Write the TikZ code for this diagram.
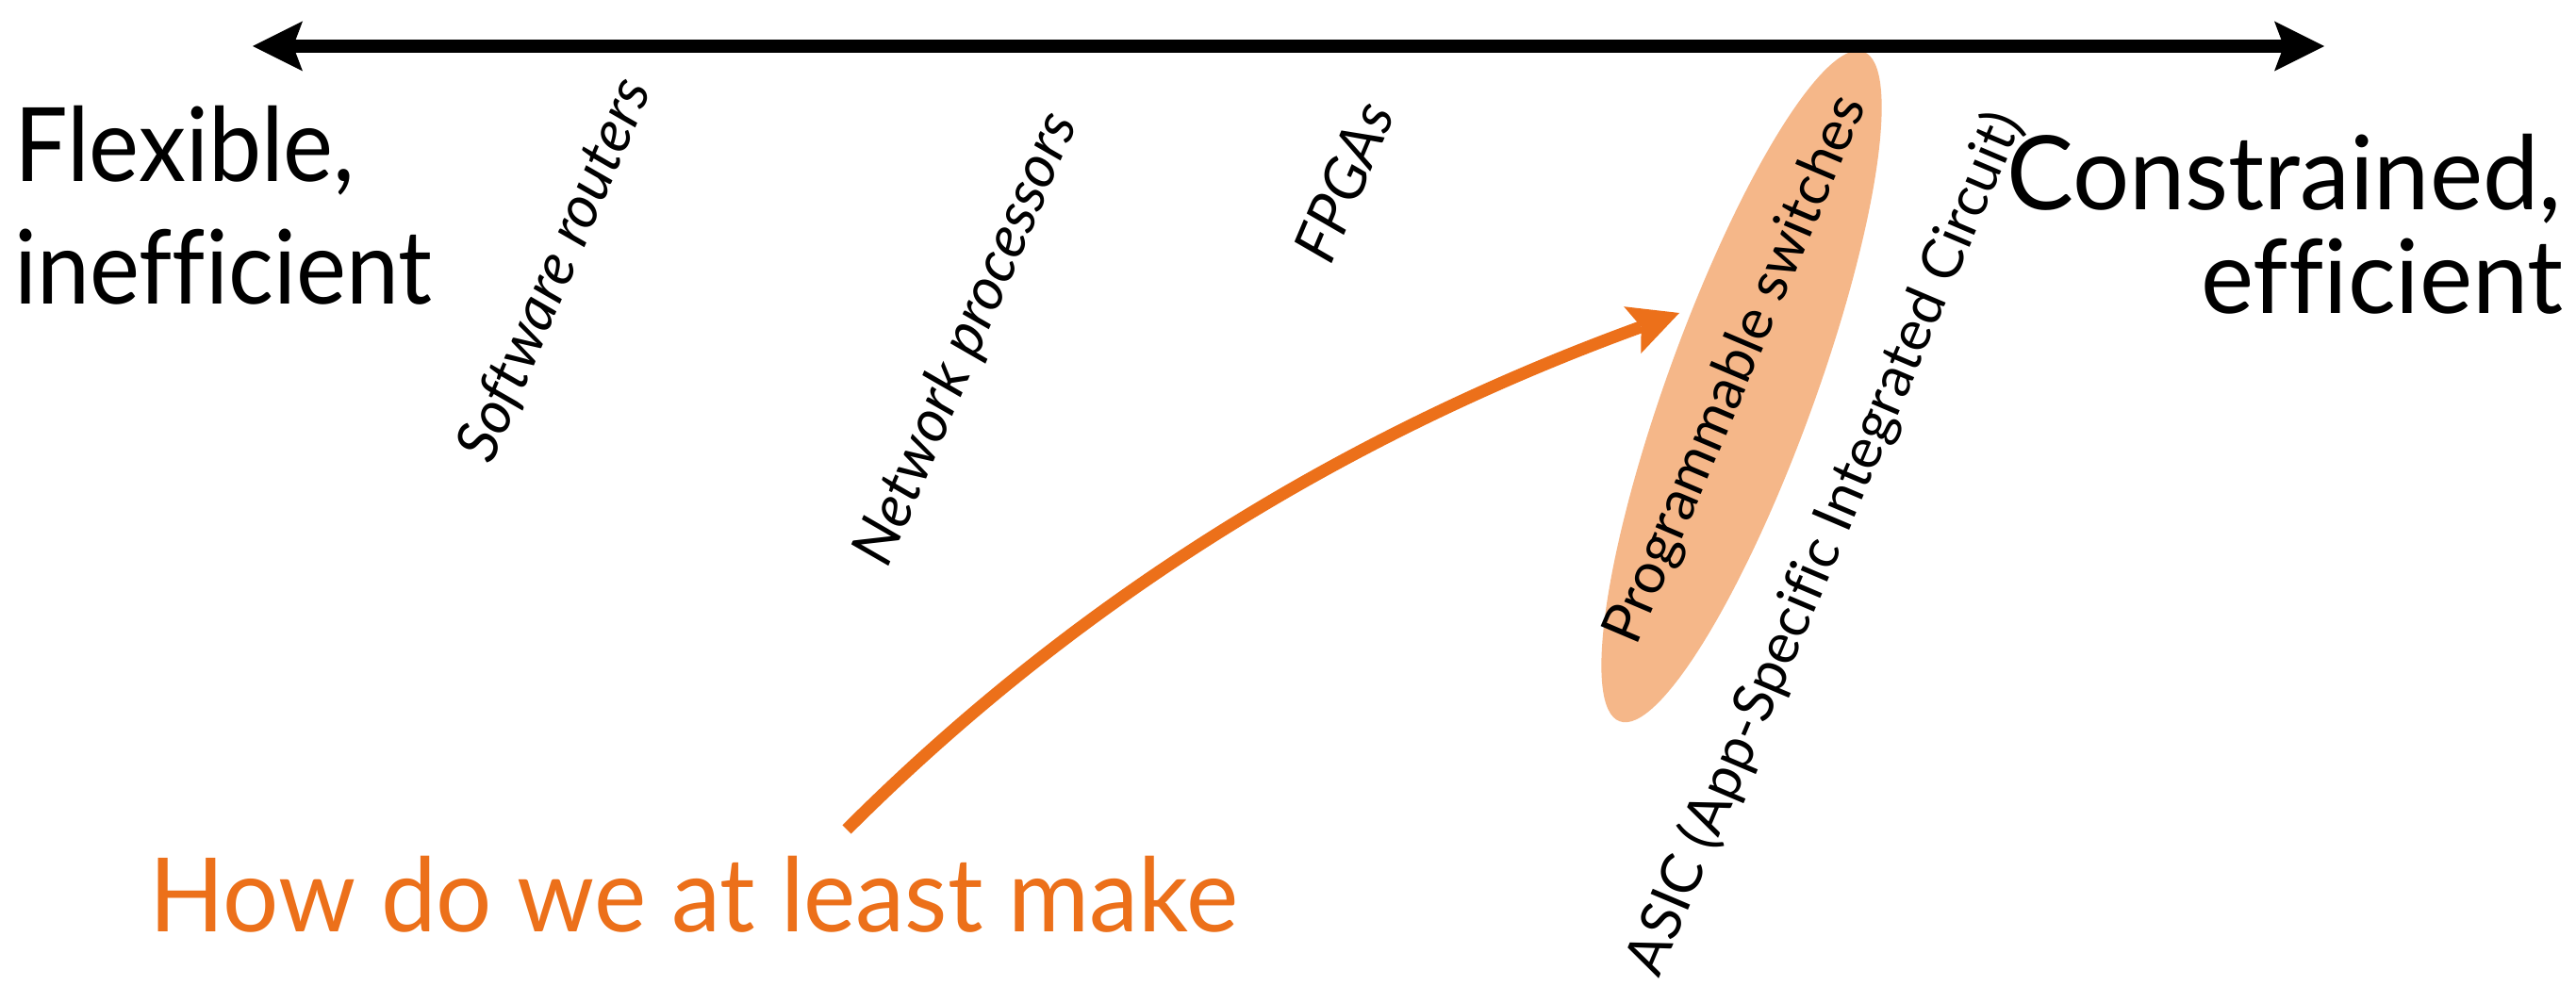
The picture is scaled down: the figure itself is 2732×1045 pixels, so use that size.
\documentclass[tikz,border=0pt]{standalone}
\usepackage{fontspec}
\setmainfont{Lato}[Ligatures=CommonOff]
\usetikzlibrary{arrows.meta}
\definecolor{accent}{RGB}{236,112,26}
\definecolor{blob}{RGB}{245,183,137}
\tikzset{
  bigtext/.style={inner sep=0pt, font=\fontsize{109}{120}\selectfont},
  lbl/.style={inner sep=0pt, font=\fontsize{60}{66}\selectfont, rotate=67},
  lbli/.style={lbl, font=\fontsize{63}{70}\selectfont\itshape},
  axis/.style={line width=14pt, black, {Stealth[length=53pt,width=53pt,inset=10pt,line width=0pt]}-{Stealth[length=53pt,width=53pt,inset=10pt,line width=0pt]}},
  hint/.style={line width=13pt, accent, -{Stealth[length=53pt,width=53pt,inset=10pt,line width=0pt]}}
}
\begin{document}
\begin{tikzpicture}[x=1pt,y=1pt]
\useasboundingbox[fill=white] (0,0) rectangle (2732,1045);
% highlight ellipse
\fill[blob, rotate around={70:(1847,635)}] (1847,635) ellipse [x radius=378, y radius=78];
% axis
\coordinate (axl) at (268,996);
\coordinate (axr) at (2465,996);
\draw[axis] (axl) -- (axr);
% end labels
\node[bigtext, anchor=base west] (flex) at (15,852) {\scalebox{0.92}[1]{Flexible,}};
\node[bigtext, anchor=base west] (ineff) at (15,722) {\scalebox{0.92}[1]{inefficient}};
\node[bigtext, anchor=base east] (cons) at (2717,822) {\scalebox{0.975}[1]{Constrained,}};
\node[bigtext, anchor=base east] (eff) at (2719,712) {\scalebox{0.975}[1]{efficient}};
% technology labels
\node[lbli] (sw) at (589,758) {Software routers};
\node[lbli] (np) at (1026,685) {Network processors};
\node[lbli] (fp) at (1425,852) {FPGAs};
\node[lbl] (ps) at (1842,652) {Programmable switches};
\node[lbl] (asic) at (1936,468) {ASIC (App-Specific Integrated Circuit)};
% question
\node[bigtext, anchor=base west, text=accent] (q) at (158,57) {\scalebox{0.96}[1]{How do we at least make}};
\coordinate (qt) at (898,165);
\coordinate (qh) at (1781,713);
\draw[hint] (qt) .. controls (1153,420) and (1443,590) .. (qh);
\end{tikzpicture}
\end{document}
